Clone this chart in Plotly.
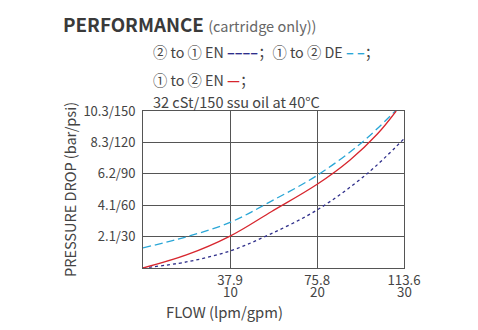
import plotly.graph_objects as go

# Data (flow in lpm, pressure drop in psi)
flow_en21 = [0, 18.9, 37.9, 55.1, 75.8, 97.5, 113.6]
psi_en21 = [0, 5.8, 16.3, 32.1, 55.5, 90, 123.5]

flow_de12 = [0, 18.9, 37.9, 55.1, 75.8, 95.3, 109.8]
psi_de12 = [19.2, 29.8, 43.6, 63, 88.5, 120, 150]

flow_en12 = [0, 18.9, 37.9, 56, 75.8, 90, 102, 110.2]
psi_en12 = [0, 12.5, 30.5, 54, 80, 103, 128, 150]

x_ticks_lpm = [37.9, 75.8, 113.6]
x_ticks_gpm = [10, 20, 30]
y_ticks = [30, 60, 90, 120, 150]
y_ticktext = ["2.1/30", "4.1/60", "6.2/90", "8.3/120", "10.3/150"]

W, H = 478, 330
ML, MR, MT, MB = 143, 74, 111, 62
PW, PH = W - ML - MR, H - MT - MB

def px(xp):
    return (xp - ML) / PW

def py(yp):
    return 1 - (yp - MT) / PH

FONT = "Noto Sans CJK SC, Noto Sans, sans-serif"
GRID = "#555555"
TXT = "#444444"
NAVY = "#2e2e8a"
CYAN = "#2aa6d6"
RED = "#d7262e"

fig = go.Figure()
fig.add_trace(go.Scatter(x=flow_en21, y=psi_en21, mode="lines",
                         line=dict(color=NAVY, width=1.3, dash="3px,3px", shape="spline", smoothing=1.0),
                         showlegend=False))
fig.add_trace(go.Scatter(x=flow_de12, y=psi_de12, mode="lines",
                         line=dict(color=CYAN, width=1.3, dash="8px,4px", shape="spline", smoothing=1.0),
                         showlegend=False))
fig.add_trace(go.Scatter(x=flow_en12, y=psi_en12, mode="lines",
                         line=dict(color=RED, width=1.3, shape="spline", smoothing=1.0),
                         showlegend=False))

fig.update_layout(
    width=W, height=H,
    margin=dict(l=ML, r=MR, t=MT, b=MB),
    paper_bgcolor="white", plot_bgcolor="white",
    font=dict(family=FONT, color=TXT, size=13),
    xaxis=dict(range=[0, 113.6], tickvals=x_ticks_lpm, ticktext=[str(v) for v in x_ticks_lpm],
               showgrid=True, gridcolor=GRID, gridwidth=1, zeroline=False,
               showline=True, linecolor=GRID, linewidth=1, mirror=True,
               ticks="", tickfont=dict(size=13.3, color=TXT)),
    yaxis=dict(range=[0, 150], tickvals=y_ticks, ticktext=y_ticktext,
               showgrid=True, gridcolor=GRID, gridwidth=1, zeroline=False,
               showline=True, linecolor=GRID, linewidth=1, mirror=True,
               ticks="", tickfont=dict(size=13, color=TXT), ticklabelstandoff=4),
)

ann = [
    dict(x=px(61), y=py(24),
         text="<b>PERFORMANCE</b> <span style='font-size:14.5px;color:#666'>(cartridge only))</span>",
         font=dict(size=18.8, color="#3a3a3a")),
    dict(x=px(151), y=py(52),
         text=(f"② to ① EN <span style='color:{NAVY}'><b>––––</b></span>；"
               f"① to ② DE <span style='color:{CYAN}'><b>– –</b></span>；"),
         font=dict(size=14.3, color=TXT)),
    dict(x=px(151), y=py(79),
         text=f"① to ② EN <span style='color:{RED}'><b>—</b></span>；",
         font=dict(size=14.3, color=TXT)),
    dict(x=px(151), y=py(101),
         text="32 cSt/150 ssu oil at 40°C",
         font=dict(size=14.5, color=TXT)),
    dict(x=px(164), y=py(311),
         text="FLOW (lpm/gpm)",
         font=dict(size=14.8, color=TXT)),
]
annotations = []
for a in ann:
    d = dict(xref="paper", yref="paper", xanchor="left", yanchor="middle",
             showarrow=False)
    d.update(a)
    annotations.append(d)
annotations.append(dict(xref="paper", yref="paper", x=px(69), y=py(190),
                        text="PRESSURE DROP (bar/psi)", textangle=-90,
                        xanchor="center", yanchor="middle", showarrow=False,
                        font=dict(size=14.5, color=TXT)))
# second row of x tick labels (gpm), placed on the flow axis
for lpm, gpm in zip(x_ticks_lpm, x_ticks_gpm):
    annotations.append(dict(xref="x", yref="paper", x=lpm, y=py(291.5),
                            text=str(gpm), showarrow=False,
                            xanchor="center", yanchor="middle",
                            font=dict(size=13.3, color=TXT)))
fig.update_layout(annotations=annotations)

fig.write_html("out.html")
